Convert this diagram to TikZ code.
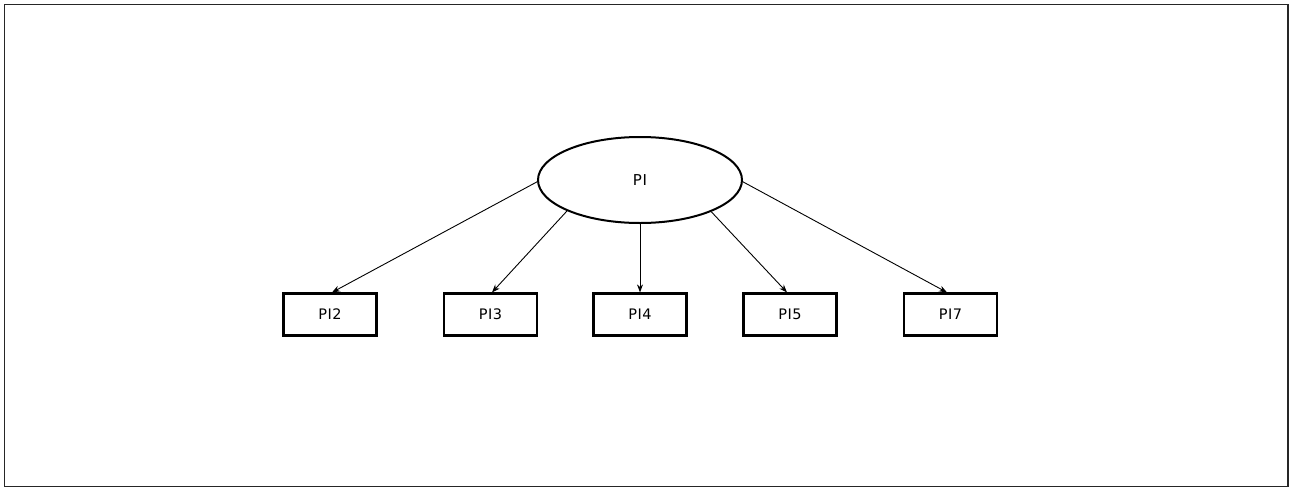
\documentclass[tikz,border=0pt]{standalone}
\usepackage{fontspec}
\setmainfont{DejaVu Sans}[LetterSpace=4]
\usetikzlibrary{arrows.meta,shapes.geometric}
\begin{document}
\begin{tikzpicture}[x=1pt,y=-1pt,
  latent/.style={draw,ellipse,line width=2pt,inner sep=0pt,
    minimum width=204pt,minimum height=86pt,font=\fontsize{15}{17}\selectfont},
  item/.style={draw,rectangle,line width=2.2pt,inner sep=0pt,
    minimum width=93pt,minimum height=42pt,font=\fontsize{14.5}{17}\selectfont},
  load/.style={line width=0.9pt,-{Stealth[length=8pt,width=6pt]}}]
  % page frame
  \useasboundingbox (0,0) rectangle (1291,488);
  \draw[line width=1.4pt,black!85] (4.5,4.5) rectangle (1288,486.5);
  % latent factor
  \node[latent] (pi) at (640,180) {PI};
  % indicators
  \node[item] (pi2) at (330,314.5) {PI2};
  \node[item] (pi3) at (490.5,314.5) {PI3};
  \node[item] (pi4) at (640,314.5) {PI4};
  \node[item] (pi5) at (790,314.5) {PI5};
  \node[item] (pi7) at (950.5,314.5) {PI7};
  % factor loadings
  \draw[load] (pi.181) -- ([xshift=2pt]pi2.north);
  \draw[load] (pi.203) -- ([xshift=1.5pt]pi3.north);
  \draw[load] (pi.south) -- (pi4.north);
  \draw[load] (pi.336) -- ([xshift=-3pt]pi5.north);
  \draw[load] (pi.359) -- ([xshift=-3.5pt]pi7.north);
\end{tikzpicture}
\end{document}
